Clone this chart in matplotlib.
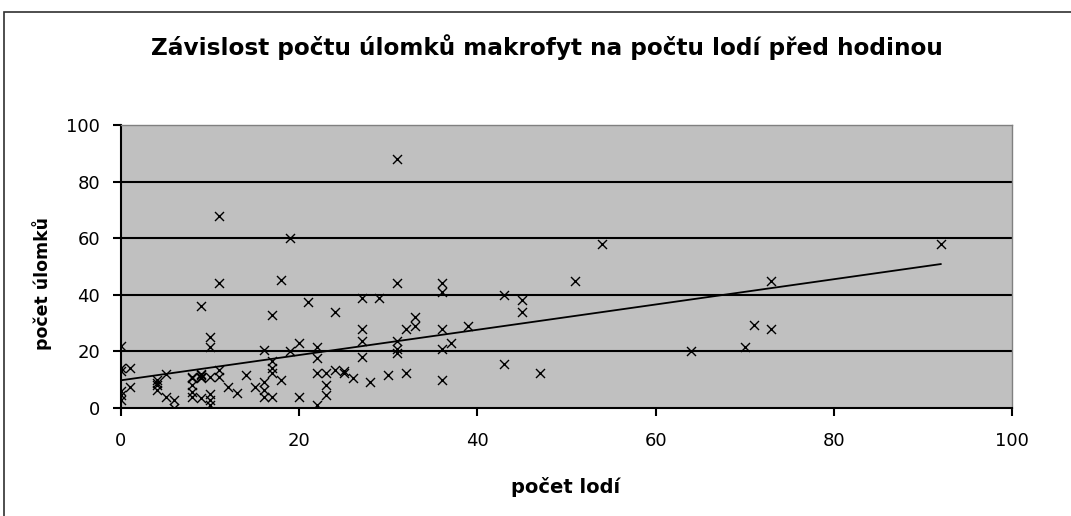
import numpy as np
import matplotlib
matplotlib.use("Agg")
import matplotlib.pyplot as plt
from matplotlib.patches import Rectangle

plt.rcParams['font.family'] = ['DejaVu Sans']

title = "Závislost počtu úlomků makrofyt na počtu lodí před hodinou"
x_label = "počet lodí"
y_label = "počet úlomků"

lode = [0, 0, 0, 0, 0, 0, 1, 1,
        4, 4, 4, 4, 5, 5, 6, 6,
        8, 8, 8, 8, 8, 9, 9, 9, 9, 9, 9, 10, 10, 10, 10, 10, 10,
        11, 11, 11, 11, 12, 13, 14, 15,
        16, 16, 16, 16, 17, 17, 17, 17, 17, 18, 18, 19, 19,
        20, 20, 21, 22, 22, 22, 22, 23, 23, 23, 24, 24, 25, 25,
        26, 27, 27, 27, 27, 28, 29, 30, 31, 31, 31, 31, 31, 32, 32, 33, 33,
        36, 36, 36, 36, 36, 37, 39, 43, 43, 45, 45, 47, 51, 54,
        64, 70, 71, 73, 73, 92]
ulomky = [22, 14, 13, 6, 4.5, 3, 14, 7.5,
          10, 9, 8, 6.5, 12, 4, 3, 0,
          10.5, 11, 8, 5.5, 4, 11.5, 12, 11, 10.5, 3.5, 36, 25, 21.5, 11, 5, 3, 1,
          13.5, 11, 44, 68, 7.5, 5.2, 11.7, 7.5,
          20.5, 9.3, 6.5, 4, 33, 16.5, 14, 12.5, 4, 45.3, 10, 60, 20,
          23, 4, 37.6, 21.7, 17.6, 12.3, 1, 12.3, 8, 4.6, 34, 13.4, 13, 12.5,
          10.5, 39, 28, 23.5, 18, 9.3, 39, 11.7, 88, 44, 23.5, 21, 19.5, 12.5, 28, 32, 29,
          44, 41, 28, 21, 10, 23, 29, 40, 15.5, 38, 34, 12.5, 45, 58,
          20, 21.5, 29.5, 28, 45, 58]

x_ticks = [0, 20, 40, 60, 80, 100]
y_ticks = [0, 20, 40, 60, 80, 100]

W, H = 1071, 516
fig = plt.figure(figsize=(W / 100, H / 100), dpi=100)
fig.patch.set_facecolor('white')

# outer chart border
fig.patches.append(Rectangle((4 / W, -0.05), 1.2, 1 - 12 / H + 0.05,
                             transform=fig.transFigure, fill=False,
                             edgecolor='#303030', linewidth=1.2))

left, right, top, bottom = 121, 1012, 125, 408
ax = fig.add_axes([left / W, 1 - bottom / H, (right - left) / W, (bottom - top) / H])
ax.set_facecolor('#C0C0C0')

ax.set_xlim(0, 100)
ax.set_ylim(0, 100)
ax.set_xticks(x_ticks)
ax.set_yticks(y_ticks)

for yv in y_ticks[1:-1]:
    ax.axhline(yv, color='black', linewidth=1.5, zorder=1)

ax.scatter(lode, ulomky, marker='x', s=42, color='black', linewidths=1.0, zorder=3)

xs = np.array(lode, dtype=float)
ys = np.array(ulomky, dtype=float)
k, q = np.polyfit(xs, ys, 1)
xl = np.array([xs.min(), xs.max()])
ax.plot(xl, k * xl + q, color='black', linewidth=1.3, zorder=2)

for s in ['top', 'right']:
    ax.spines[s].set_color('#808080')
    ax.spines[s].set_linewidth(1.0)
for s in ['left', 'bottom']:
    ax.spines[s].set_color('black')
    ax.spines[s].set_linewidth(1.5)

ax.tick_params(axis='both', direction='out', length=6, width=1.5, color='black',
               labelsize=13)
ax.tick_params(axis='y', pad=9)
ax.tick_params(axis='x', pad=11)

fig.text(547 / W, 1 - 47 / H, title, ha='center', va='center',
         fontsize=16.7, fontweight='bold')
fig.text(566 / W, 1 - 487 / H, x_label, ha='center', va='center',
         fontsize=14, fontweight='bold')
fig.text(42 / W, 1 - 283 / H, y_label, ha='center', va='center', rotation=90,
         fontsize=12.5, fontweight='bold')

fig.savefig('out.png', dpi=100)
